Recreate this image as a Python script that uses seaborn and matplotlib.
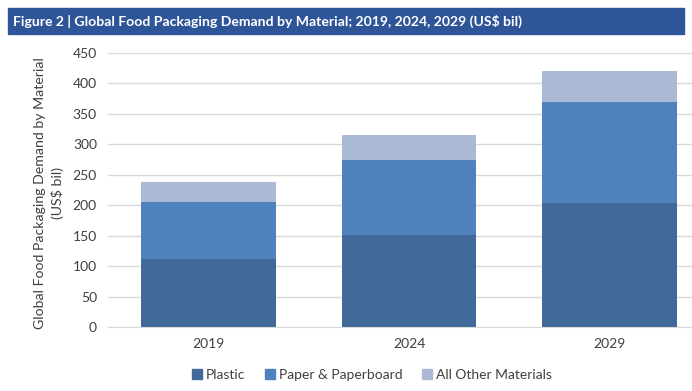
import pandas as pd
import matplotlib.pyplot as plt
import seaborn as sns
from matplotlib.patches import Rectangle, Patch

years = ['2019', '2024', '2029']
plastic = [112, 151, 203]
paper = [94, 124, 167]
other = [32, 40, 51]
series = ['Plastic', 'Paper & Paperboard', 'All Other Materials']
colors = ['#41699A', '#4F81BD', '#A9B9D6']

df = pd.DataFrame({'Year': years, 'Plastic': plastic, 'Paper': paper, 'Other': other})
df['lvl1'] = df['Plastic']
df['lvl2'] = df['Plastic'] + df['Paper']
df['lvl3'] = df['lvl2'] + df['Other']

sns.set_style('white')
plt.rcParams['font.family'] = ['Lato', 'DejaVu Sans']

fig = plt.figure(figsize=(6.92, 3.91), dpi=100)

# title banner
fig.patches.append(Rectangle((8 / 692, 1 - 34 / 391), 676 / 692, 26 / 391,
                             transform=fig.transFigure, color='#2E5597', zorder=0))
fig.text(13 / 692, 1 - 21 / 391,
         'Figure 2 | Global Food Packaging Demand by Material; 2019, 2024, 2029 (US$ bil)',
         color='white', fontsize=10.1, fontweight='bold', va='center', ha='left')

ax = fig.add_axes([108 / 692, 1 - 327 / 391, 584 / 692, 274 / 391])

for col, c in zip(['lvl3', 'lvl2', 'lvl1'], colors[::-1]):
    sns.barplot(data=df, x='Year', y=col, color=c, width=0.67, ax=ax,
                saturation=1, edgecolor='none', zorder=2)

ax.set_xlim(-0.5, 2.41)
ax.set_ylim(0, 450)
ax.set_yticks(range(0, 451, 50))
ax.yaxis.grid(True, color='#D9D9D9', linewidth=1, zorder=0)
ax.set_axisbelow(True)
for s in ['top', 'right', 'left']:
    ax.spines[s].set_visible(False)
ax.spines['bottom'].set_color('#D9D9D9')
ax.tick_params(axis='both', length=0, labelsize=10, colors='#404040', pad=8)
ax.set_xlabel('')
ax.set_ylabel('Global Food Packaging Demand by Material\n(US$ bil)', fontsize=10.2,
              color='#404040', linespacing=1.5)
ax.yaxis.set_label_coords(-0.075, 0.49)

handles = [Patch(color=c, label=l) for c, l in zip(colors, series)]
fig.legend(handles=handles, loc='center', bbox_to_anchor=(372 / 692, 1 - 375 / 391),
           ncol=3, frameon=False, fontsize=10, handlelength=0.7, handleheight=0.7,
           columnspacing=1.4, handletextpad=0.3, labelcolor='#404040')

fig.savefig('out.png', dpi=100)
